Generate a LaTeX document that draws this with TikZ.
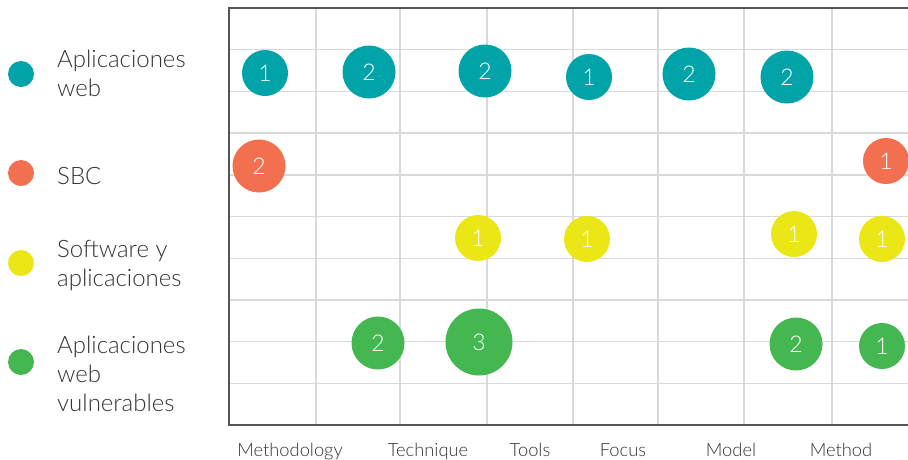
\documentclass[tikz,border=0pt]{standalone}
\usepackage{fontspec}
\setmainfont{Lato Light}
\definecolor{cteal}{HTML}{00A3A8}
\definecolor{corange}{HTML}{F2704F}
\definecolor{cyellow}{HTML}{EBE717}
\definecolor{cgreen}{HTML}{45B751}
\definecolor{cgrid}{HTML}{D9D9D9}
\definecolor{cborder}{HTML}{555555}
\definecolor{ctext}{HTML}{333333}
\begin{document}
\begin{tikzpicture}[x=1pt,y=-1pt,
  bub/.style={circle, fill=#1, inner sep=0pt, text=white, font=\fontsize{23}{23}\selectfont},
  sm/.style={minimum size=46pt},
  md/.style={minimum size=53pt},
  lg/.style={minimum size=67pt},
  legdot/.style={circle, fill=#1, inner sep=0pt, minimum size=26pt},
  legtext/.style={anchor=base west, inner sep=0pt, align=left, text=ctext, font=\fontsize{24}{28.7}\selectfont},
  axlab/.style={anchor=base, inner sep=0pt, text=ctext, font=\fontsize{18.3}{18.3}\selectfont},
  gridline/.style={draw=cgrid, line width=1.4pt},
  frame/.style={draw=cborder, line width=2.3pt}]
\useasboundingbox (0,0) rectangle (908,459);
\fill[white] (0,0) rectangle (908,459);
% grid
\foreach \y in {49.7,91.4,133.1,174.8,216.5,258.2,299.9,341.6,383.3}
  \draw[gridline] (229,\y) -- (908,\y);
\foreach \x in {316,400,487,573,658,744,832}
  \draw[gridline] (\x,8) -- (\x,425);
% frame
\coordinate (tl) at (229,8);
\coordinate (tr) at (908,8);
\coordinate (bl) at (229,425);
\coordinate (br) at (908,425);
\draw[frame] (tr) -- (tl) -- (bl) -- (br);
% legend
\node[legdot=cteal] (l1) at (21,74) {};
\node[legdot=corange] (l2) at (21,173) {};
\node[legdot=cyellow] (l3) at (21,263) {};
\node[legdot=cgreen] (l4) at (21,362) {};
\node[legtext] (t1) at (57,96.5) {Aplicaciones\\web};
\node[legtext] (t2) at (57,184) {SBC};
\node[legtext] (t3) at (57,286) {Software y\\aplicaciones};
\node[legtext] (t4) at (57,411) {Aplicaciones\\web\\vulnerables};
% bubbles: web
\node[bub=cteal, sm] (w1) at (265,73) {1};
\node[bub=cteal, md] (w2) at (369,72) {2};
\node[bub=cteal, md] (w3) at (485,71) {2};
\node[bub=cteal, sm] (w4) at (589,77) {1};
\node[bub=cteal, md] (w5) at (689,74) {2};
\node[bub=cteal, md] (w6) at (787,77) {2};
% SBC
\node[bub=corange, md] (s1) at (259,166) {2};
\node[bub=corange, sm] (s2) at (886,161) {1};
% software
\node[bub=cyellow, sm] (y1) at (478,238) {1};
\node[bub=cyellow, sm] (y2) at (587,239) {1};
\node[bub=cyellow, sm] (y3) at (794,234) {1};
\node[bub=cyellow, sm] (y4) at (882,239) {1};
% vulnerable
\node[bub=cgreen, md] (g1) at (378,343) {2};
\node[bub=cgreen, lg] (g2) at (479,342) {3};
\node[bub=cgreen, md] (g3) at (796,344) {2};
\node[bub=cgreen, sm] (g4) at (882,346) {1};
% axis labels
\node[axlab] (a1) at (290,456) {Methodology};
\node[axlab] (a2) at (428,456) {Technique};
\node[axlab] (a3) at (530,456) {Tools};
\node[axlab] (a4) at (623,456) {Focus};
\node[axlab] (a5) at (731,456) {Model};
\node[axlab] (a6) at (841,456) {Method};
\end{tikzpicture}
\end{document}
